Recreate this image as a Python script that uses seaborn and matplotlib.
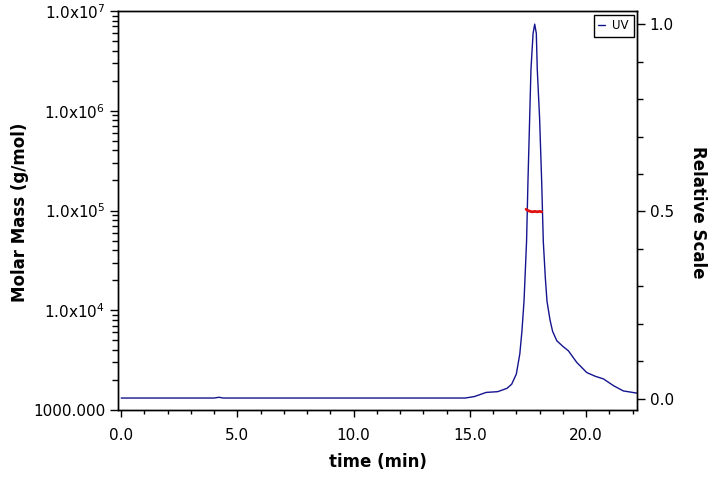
import seaborn as sns
import matplotlib.pyplot as plt
import pandas as pd
import numpy as np
from matplotlib.ticker import FixedLocator, FixedFormatter, MultipleLocator, NullFormatter

# UV trace (relative scale)
uv_time = [0.0, 4.0, 4.2, 4.4, 14.8, 15.2, 15.7, 16.2, 16.6, 16.8, 17.0, 17.15, 17.24,
           17.33, 17.44, 17.5, 17.63, 17.72, 17.79, 17.86, 17.9, 18.0, 18.09, 18.16,
           18.25, 18.32, 18.45, 18.56, 18.74, 19.0, 19.24, 19.6, 20.03, 20.4, 20.75,
           21.18, 21.6, 22.2]
uv_rel = [0.002, 0.002, 0.004, 0.002, 0.002, 0.006, 0.017, 0.019, 0.028, 0.039, 0.066,
          0.12, 0.18, 0.26, 0.42, 0.58, 0.88, 0.975, 1.0, 0.975, 0.88, 0.75, 0.58, 0.42,
          0.32, 0.26, 0.21, 0.18, 0.155, 0.14, 0.128, 0.097, 0.07, 0.06, 0.053, 0.035,
          0.021, 0.015]

# molar mass across the peak
mm_time = [17.42, 17.5, 17.6, 17.7, 17.8, 17.9, 18.0, 18.09]
mm_mass = [1.03e5, 1.0e5, 9.8e4, 9.7e4, 9.8e4, 9.7e4, 9.8e4, 9.7e4]

y_ticks = [1e3, 1e4, 1e5, 1e6, 1e7]
y_labels = ["1000.000", r"1.0x10$^{4}$", r"1.0x10$^{5}$", r"1.0x10$^{6}$", r"1.0x10$^{7}$"]
x_ticks = [0, 5, 10, 15, 20]
x_labels = ["0.0", "5.0", "10.0", "15.0", "20.0"]

df_uv = pd.DataFrame({"time": uv_time, "rel": uv_rel})
df_mm = pd.DataFrame({"time": mm_time, "mass": mm_mass})

sns.set_style("ticks")
plt.rcParams['font.family'] = ['DejaVu Sans']
plt.rcParams['text.color'] = 'black'
plt.rcParams['xtick.color'] = 'black'
plt.rcParams['ytick.color'] = 'black'
plt.rcParams['axes.labelcolor'] = 'black'

fig = plt.figure(figsize=(7.2, 4.79), dpi=100)
ax = fig.add_axes([0.1635, 0.144, 0.7215, 0.833])
ax2 = ax.twinx()

sns.lineplot(data=df_uv, x="time", y="rel", ax=ax2, color="#14148f", linewidth=1.0, label="UV")
sns.lineplot(data=df_mm, x="time", y="mass", ax=ax, color="#e01010", linewidth=2.0)

ax.set_zorder(ax2.get_zorder() + 1)
ax.patch.set_visible(False)

ax.set_yscale("log")
ax.set_ylim(1e3, 1e7)
ax.set_xlim(-0.15, 22.2)
ax2.set_ylim(-0.03, 1.035)

ax.yaxis.set_major_locator(FixedLocator(y_ticks))
ax.yaxis.set_major_formatter(FixedFormatter(y_labels))
ax.yaxis.set_minor_locator(FixedLocator([m * 10 ** e for e in range(3, 7) for m in range(2, 10)]))
ax.yaxis.set_minor_formatter(NullFormatter())
ax.xaxis.set_major_locator(FixedLocator(x_ticks))
ax.xaxis.set_major_formatter(FixedFormatter(x_labels))
ax.xaxis.set_minor_locator(MultipleLocator(1))

ax2.yaxis.set_major_locator(FixedLocator([0.0, 0.5, 1.0]))
ax2.yaxis.set_major_formatter(FixedFormatter(["0.0", "0.5", "1.0"]))
ax2.yaxis.set_minor_locator(MultipleLocator(0.1))

for a in (ax, ax2):
    for s in a.spines.values():
        s.set_visible(True)
        s.set_color("black")
        s.set_linewidth(1.0)
    a.tick_params(which="major", length=6, width=1, labelsize=11, pad=3)
    a.tick_params(which="minor", length=4, width=1)
ax.tick_params(axis="x", which="major", length=5, pad=8)
ax.tick_params(axis="x", which="minor", length=3)

ax.set_xlabel("")
ax.set_ylabel("")
ax2.set_ylabel("")
fig.text(377.5 / 720, 1 - 462 / 479, "time (min)", fontsize=12, fontweight="bold",
         ha="center", va="center")
fig.text(20 / 720, 1 - 212 / 479, "Molar Mass (g/mol)", fontsize=12, fontweight="bold",
         rotation=90, ha="center", va="center")
fig.text(698 / 720, 1 - 212 / 479, "Relative Scale", fontsize=12, fontweight="bold",
         rotation=-90, ha="center", va="center")

leg = ax2.legend(loc="upper right", fontsize=8.5, handlelength=0.6, handletextpad=0.6,
                 fancybox=False, edgecolor="black", framealpha=1,
                 borderpad=0.4, borderaxespad=0.3)
leg.get_frame().set_linewidth(1.0)

fig.savefig("out.png", dpi=100)
